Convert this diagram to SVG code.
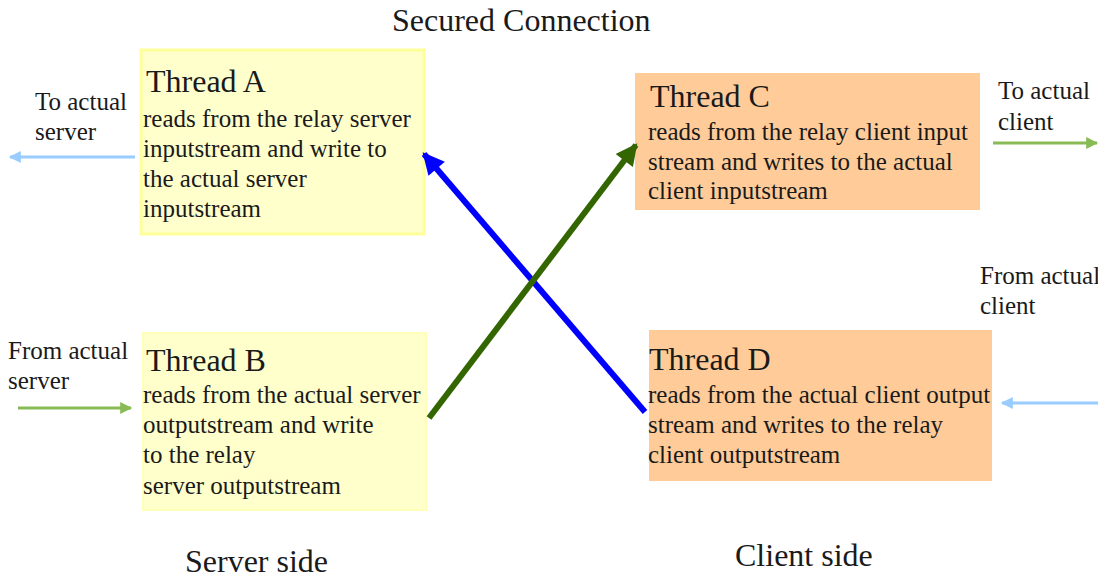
<svg xmlns="http://www.w3.org/2000/svg" width="1098" height="579" viewBox="0 0 1098 579">
<style>
text{font-family:"Liberation Serif","Times New Roman",serif;fill:#1a1a1a}
.title{font-size:32px}
.body{font-size:25px}
.lbl{font-size:25px}
.big{font-size:32px}
.yel{fill:#FFFFCC;stroke:#FFFF99;stroke-width:3}
.yel2{fill:#FFFFCC;stroke:#FFFFB8;stroke-width:2}
.org{fill:#FFCC99;stroke:none}
</style>
<defs>
<marker id="hBlue" viewBox="0 0 10 10" refX="9" refY="5" markerWidth="4.2" markerHeight="3.6" orient="auto" markerUnits="strokeWidth"><path d="M0,0 L10,5 L0,10 z" fill="#0000FF"/></marker>
<marker id="hGreen" viewBox="0 0 10 10" refX="9" refY="5" markerWidth="4.2" markerHeight="3.6" orient="auto" markerUnits="strokeWidth"><path d="M0,0 L10,5 L0,10 z" fill="#336600"/></marker>
<marker id="hLBlue" viewBox="0 0 10 10" refX="9" refY="5" markerWidth="5" markerHeight="4" orient="auto" markerUnits="strokeWidth"><path d="M0,0 L10,5 L0,10 z" fill="#99CCFF"/></marker>
<marker id="hLGreen" viewBox="0 0 10 10" refX="9" refY="5" markerWidth="5" markerHeight="4" orient="auto" markerUnits="strokeWidth"><path d="M0,0 L10,5 L0,10 z" fill="#88BB55"/></marker>
</defs>
<rect width="1098" height="579" fill="#ffffff"/>
<text class="title" x="392" y="31">Secured Connection</text>
<g id="threadA">
<rect class="yel" x="141" y="50" width="283" height="184"/>
<text class="big" x="146" y="92">Thread A</text>
<text class="body" x="143" y="127">reads from the relay server</text>
<text class="body" x="143" y="157">inputstream and write to</text>
<text class="body" x="143" y="187">the actual server</text>
<text class="body" x="143" y="217">inputstream</text>
</g>
<g id="threadB">
<rect class="yel2" x="143" y="333" width="283" height="177"/>
<text class="big" x="146" y="371">Thread B</text>
<text class="body" x="143" y="403">reads from the actual server</text>
<text class="body" x="143" y="433">outputstream and write</text>
<text class="body" x="143" y="463">to the relay</text>
<text class="body" x="143" y="494">server outputstream</text>
</g>
<g id="threadC">
<rect class="org" x="635" y="73" width="345" height="137"/>
<text class="big" x="650" y="107">Thread C</text>
<text class="body" x="648" y="140">reads from the relay client input</text>
<text class="body" x="648" y="170">stream and writes to the actual</text>
<text class="body" x="648" y="199">client inputstream</text>
</g>
<g id="threadD">
<rect class="org" x="649" y="330" width="343" height="151"/>
<text class="big" x="649" y="370">Thread D</text>
<text class="body" x="648" y="403">reads from the actual client output</text>
<text class="body" x="648" y="433">stream and writes to the relay</text>
<text class="body" x="648" y="463">client outputstream</text>
</g>
<g id="labels">
<text class="lbl" x="35" y="110">To actual</text>
<text class="lbl" x="35" y="140">server</text>
<text class="lbl" x="8" y="359">From actual</text>
<text class="lbl" x="8" y="389">server</text>
<text class="lbl" x="998" y="99">To actual</text>
<text class="lbl" x="998" y="130">client</text>
<text class="lbl" x="980" y="284">From actual</text>
<text class="lbl" x="980" y="314">client</text>
<text class="title" x="185" y="572">Server side</text>
<text class="title" x="735" y="566">Client side</text>
</g>
<g id="connectors" fill="none">
<line x1="645" y1="412" x2="424" y2="154" stroke="#0000FF" stroke-width="6" marker-end="url(#hBlue)"/>
<line x1="429" y1="418" x2="636" y2="145" stroke="#336600" stroke-width="6" marker-end="url(#hGreen)"/>
<line x1="135" y1="157" x2="10" y2="157" stroke="#99CCFF" stroke-width="3" marker-end="url(#hLBlue)"/>
<line x1="18" y1="408" x2="131" y2="408" stroke="#88BB55" stroke-width="3" marker-end="url(#hLGreen)"/>
<line x1="993" y1="143" x2="1097" y2="143" stroke="#88BB55" stroke-width="3" marker-end="url(#hLGreen)"/>
<line x1="1098" y1="403" x2="1002" y2="403" stroke="#99CCFF" stroke-width="3" marker-end="url(#hLBlue)"/>
</g>
</svg>
